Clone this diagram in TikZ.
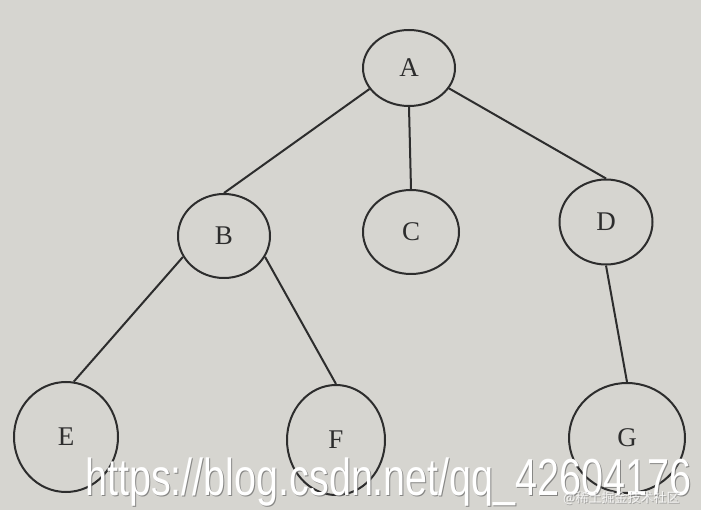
\documentclass[tikz,border=0pt]{standalone}
\usepackage{fontspec}
\setmainfont{Liberation Serif}
\newfontfamily\markfont{Liberation Sans}
\newfontfamily\cjkfont{Noto Sans CJK SC}
\usepackage{graphicx}
\usepackage{tikz}
\usetikzlibrary{shapes, positioning}
\definecolor{paper}{RGB}{214,213,208}
\definecolor{ink}{RGB}{45,45,45}
\tikzstyle{vcell} = [ellipse, draw=ink, line width=2pt, text=ink, inner sep=0pt, font=\fontsize{27}{30}\selectfont]
\tikzstyle{line} = [draw=ink, line width=2pt]
\tikzstyle{wmark} = [inner sep=0pt, anchor=base west]
\newcommand{\urltext}{\markfont\fontsize{52}{60}\selectfont\scalebox{0.76}[1]{https://blog.csdn.net/qq\_42604176}}

\begin{document}
\begin{tikzpicture}[x=1pt, y=-1pt, on grid]
    \fill[paper] (0,0) rectangle (701,510);
    \useasboundingbox (0,0) rectangle (701,510);

    \node[vcell, minimum width=92pt, minimum height=76pt] (A) at (409,68) {A};
    \node[vcell, minimum width=92pt, minimum height=84pt, below left=168pt and 185pt of A](B){B};
    \node[vcell, minimum width=96pt, minimum height=84pt, below right=164pt and 2pt of A](C){C};
    \node[vcell, minimum width=93pt, minimum height=85pt, below right=154pt and 197pt of A](D){D};
    \node[vcell, minimum width=104pt, minimum height=110pt, below left=201pt and 158pt of B](E){E};
    \node[vcell, minimum width=98pt, minimum height=110pt, below right=204pt and 112pt of B](F){F};
    \node[vcell, minimum width=116pt, minimum height=110pt, below right=216pt and 21pt of D](G){G};

    \path[line] (A.208) -- (B.north);
    \path[line] (A.south) -- (C.north);
    \path[line] (A.333) -- (D.north);
    \path[line] (B.207) -- (E.82);
    \path[line] (B.333) -- (F.north);
    \path[line] (D.south) -- (G.north);

    \node[wmark, text=black!60, opacity=.7] (urlshade) at (86,496) {\urltext};
    \node[wmark, text=white] (url) at (85,495) {\urltext};
    \node[wmark, text=black!50, opacity=.6] (siteshade) at (564,503) {\cjkfont\fontsize{13}{15}\selectfont @稀土掘金技术社区};
    \node[wmark, text=white, opacity=.8] (site) at (563,502) {\cjkfont\fontsize{13}{15}\selectfont @稀土掘金技术社区};
\end{tikzpicture}
\end{document}
